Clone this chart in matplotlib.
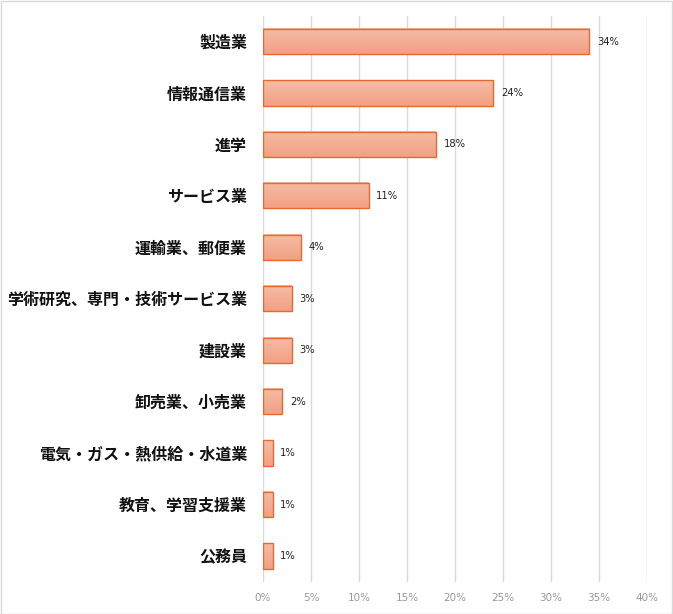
import matplotlib
matplotlib.use("Agg")
import matplotlib.pyplot as plt
import numpy as np
from matplotlib.colors import LinearSegmentedColormap
from matplotlib.patches import Rectangle

plt.rcParams['font.family'] = ['Noto Sans CJK JP', 'DejaVu Sans']

categories = ["製造業", "情報通信業", "進学", "サービス業", "運輸業、郵便業",
              "学術研究、専門・技術サービス業", "建設業", "卸売業、小売業",
              "電気・ガス・熱供給・水道業", "教育、学習支援業", "公務員"]
values = [34, 24, 18, 11, 4, 3, 3, 2, 1, 1, 1]
value_labels = ["34%", "24%", "18%", "11%", "4%", "3%", "3%", "2%", "1%", "1%", "1%"]
xticks = [0, 5, 10, 15, 20, 25, 30, 35, 40]
xtick_labels = ["0%", "5%", "10%", "15%", "20%", "25%", "30%", "35%", "40%"]

W, H = 673, 614
fig = plt.figure(figsize=(W / 100, H / 100), dpi=100)
ax = fig.add_axes([263 / W, (H - 581.7) / H, (647 - 263) / W, (581.7 - 15.8) / H])

n = len(categories)
ypos = np.arange(n)
bh = 0.49
cmap = LinearSegmentedColormap.from_list("g", ["#F5BCA6", "#F2A083"])
grad = np.linspace(0, 1, 64).reshape(-1, 1)

for y, v in zip(ypos, values):
    ax.imshow(grad, extent=[0, v, y + bh / 2, y - bh / 2], aspect='auto',
              cmap=cmap, interpolation='bilinear', origin='upper', zorder=2)

ax.barh(ypos, values, height=bh, facecolor='none', edgecolor='#E8692E',
        linewidth=1.0, zorder=3)

for y, v, lab in zip(ypos, values, value_labels):
    ax.annotate(lab, (v, y), xytext=(5.5, 0), textcoords='offset points',
                va='center', ha='left', fontsize=7.2, color='#222222',
                family=['DejaVu Sans'])

ax.set_xlim(0, 40)
ax.set_ylim(n - 0.5, -0.5)
ax.set_yticks(ypos)
ax.set_yticklabels(categories, fontsize=11.5, fontweight='bold', color='#111111')
ax.set_xticks(xticks)
ax.set_xticklabels(xtick_labels, fontsize=7.5, color='#999999', family=['DejaVu Sans'])
ax.tick_params(axis='both', length=0)
ax.tick_params(axis='y', pad=11.5)
ax.tick_params(axis='x', pad=8)
ax.grid(axis='x', color='#D9D9D9', linewidth=1, zorder=0)
ax.set_axisbelow(True)
for s in ax.spines.values():
    s.set_visible(False)

fig.patches.append(Rectangle((0.5 / W, 0.5 / H), 1 - 1.5 / W, 1 - 1.5 / H,
                             transform=fig.transFigure, fill=False,
                             edgecolor='#D9D9D9', linewidth=1))

fig.savefig("out.png", dpi=100)
